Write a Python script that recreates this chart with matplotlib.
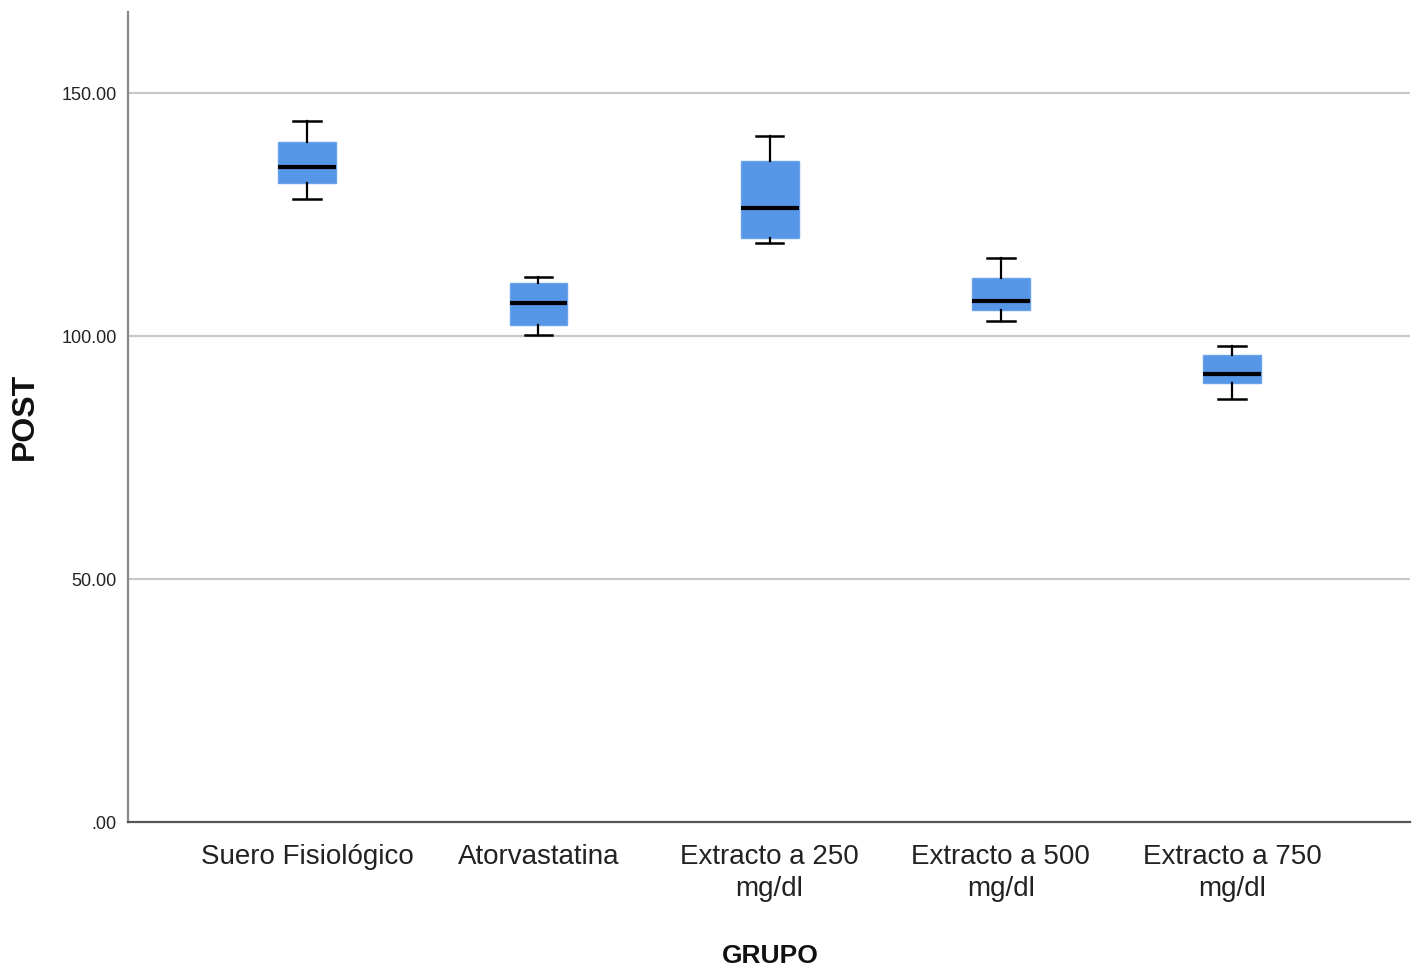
import matplotlib
matplotlib.use("Agg")
import matplotlib.pyplot as plt

grupos = ["Suero Fisiológico", "Atorvastatina", "Extracto a 250\nmg/dl",
          "Extracto a 500\nmg/dl", "Extracto a 750\nmg/dl"]
whis_lo = [128.2, 100.2, 119.1, 103.1, 87.0]
q1 = [131.5, 102.3, 120.2, 105.3, 90.3]
med = [134.8, 106.8, 126.3, 107.2, 92.2]
q3 = [139.9, 110.9, 136.0, 111.9, 96.1]
whis_hi = [144.2, 112.1, 141.2, 116.0, 97.9]
yticks = [0, 50, 100, 150]
ytick_labels = [".00", "50.00", "100.00", "150.00"]

font = "Liberation Sans"

fig = plt.figure(figsize=(14.21, 9.74), dpi=100)
ax = fig.add_axes([0.0901, 0.156, 0.9022, 0.8317])

stats = []
for i in range(len(grupos)):
    stats.append({"whislo": whis_lo[i], "q1": q1[i], "med": med[i],
                  "q3": q3[i], "whishi": whis_hi[i], "fliers": []})

ax.bxp(stats, positions=range(len(grupos)), widths=0.25, capwidths=0.12,
       patch_artist=True, showfliers=False,
       boxprops=dict(facecolor="#5596e6", edgecolor="#6aa3ea", linewidth=1),
       medianprops=dict(color="black", linewidth=3),
       whiskerprops=dict(color="black", linewidth=1.6),
       capprops=dict(color="black", linewidth=1.8))

for y in yticks[1:]:
    ax.axhline(y, color="#c8c8c8", linewidth=1.6, zorder=0)

ax.set_xlim(-0.775, 4.77)
ax.set_ylim(0, 166.7)
ax.set_yticks(yticks)
ax.set_yticklabels(ytick_labels, fontsize=13, family=font, color="#222222")
ax.set_xticks(range(len(grupos)))
ax.set_xticklabels(grupos, fontsize=20, family=font, color="#222222",
                   linespacing=1.3)
ax.tick_params(axis="both", length=0)
ax.tick_params(axis="y", pad=8)
ax.tick_params(axis="x", pad=16)

for s in ["top", "right"]:
    ax.spines[s].set_visible(False)
ax.spines["left"].set_color("#888888")
ax.spines["left"].set_linewidth(1.6)
ax.spines["bottom"].set_color("#555555")
ax.spines["bottom"].set_linewidth(1.6)

fig.text(0.5418, 1 - 956 / 974, "GRUPO", fontsize=19, fontweight="bold",
         family=font, ha="center", va="center", color="#111111")
fig.text(25 / 1421, 1 - 416 / 974, "POST", fontsize=23, fontweight="bold",
         family=font, rotation=90, ha="center", va="center",
         color="#111111")

fig.savefig("out.png", dpi=100)
